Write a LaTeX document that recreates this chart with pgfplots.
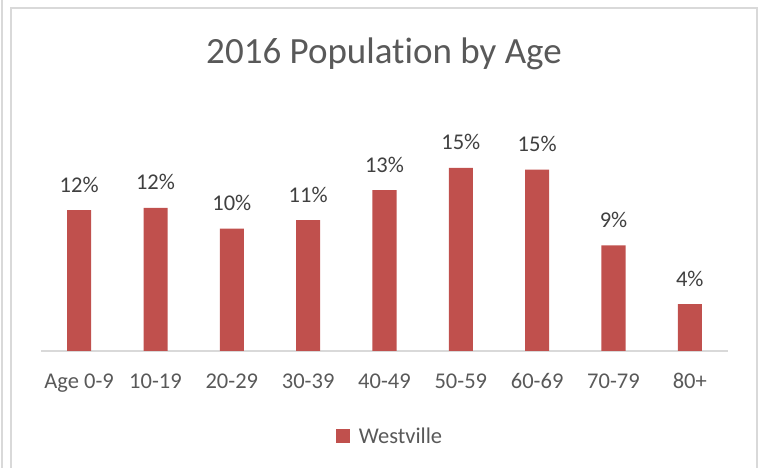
\documentclass[border=0pt]{standalone}
\usepackage{pgfplots}
\pgfplotsset{compat=1.18}
\usepackage{fontspec}
\setmainfont{Carlito}[Ligatures=NoCommon]
\definecolor{barred}{HTML}{C0504D}
\definecolor{txtgray}{HTML}{595959}
\definecolor{lblgray}{HTML}{404040}
\definecolor{framegray}{HTML}{D9D9D9}
\begin{document}
\begin{tikzpicture}[x=1pt,y=1pt]
\useasboundingbox (0,0) rectangle (765,468);
% outer and chart-area frames
\draw[framegray, line width=2pt] (1.5,-5) -- (1.5,473);
\draw[framegray, line width=1.5pt] (11,-5) -- (11,460) -- (757,460) -- (757,-5);
\node[anchor=base, text=txtgray, font=\fontsize{37}{44}\selectfont, inner sep=0pt]
  at (384,404) {2016 Population by Age};
\begin{axis}[
  at={(41pt,117pt)}, anchor=south west,
  scale only axis, width=687pt, height=192.8pt,
  xmin=-0.5, xmax=8.5, ymin=0, ymax=16,
  ybar, bar width=24pt,
  axis x line=bottom, axis y line=none,
  x axis line style={framegray, line width=1.5pt, -},
  xtick=data,
  xticklabels={Age 0-9,10-19,20-29,30-39,40-49,50-59,60-69,70-79,80+},
  major tick length=0pt, ytick=\empty,
  xticklabel style={anchor=base, yshift=-38pt, inner sep=0pt,
    font=\fontsize{22.5}{27}\selectfont, text=txtgray},
  nodes near coords={\pgfmathprintnumber[fixed,precision=0,assume math mode=true]{\pgfplotspointmeta}\%},
  every node near coord/.append style={anchor=base, yshift=18pt, inner sep=0pt,
    font=\fontsize{22.5}{27}\selectfont, text=lblgray},
  clip=false,
  legend style={at={(0.508,-0.441)}, anchor=center, draw=none, fill=none,
    font=\fontsize{22.5}{27}\selectfont, text=txtgray},
  legend image code/.code={\fill[barred] (0pt,-7pt) rectangle (14pt,7pt);
    \path (21pt,0pt);},
]
\addplot[fill=barred, draw=none] coordinates {
  (0,11.7) (1,11.87) (2,10.16) (3,10.87) (4,13.36)
  (5,15.19) (6,15.05) (7,8.77) (8,3.88)};
\addlegendentry{Westville}
\end{axis}
\end{tikzpicture}
\end{document}
